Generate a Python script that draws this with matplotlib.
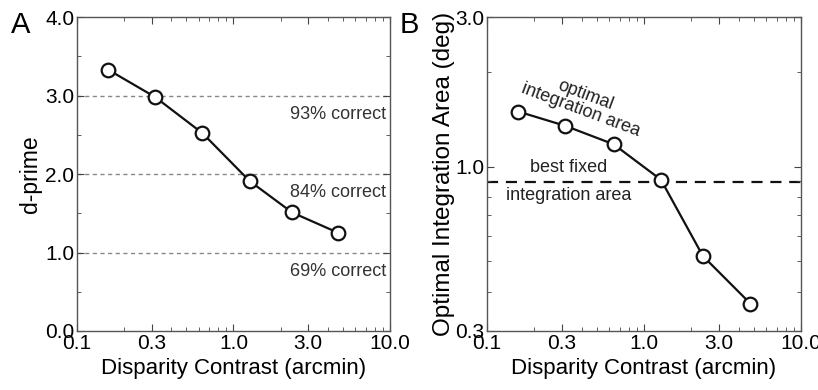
import numpy as np
import matplotlib.pyplot as plt
from matplotlib.ticker import FixedLocator, NullFormatter

plt.rcParams['font.family'] = ['Liberation Sans', 'DejaVu Sans']

# data
contrast = [0.158, 0.316, 0.634, 1.27, 2.37, 4.68]
dprime = [3.33, 2.98, 2.52, 1.91, 1.51, 1.25]
contrast_b = [0.158, 0.316, 0.64, 1.28, 2.37, 4.75]
opt_area = [1.50, 1.35, 1.18, 0.91, 0.52, 0.367]
best_fixed = 0.895
pc_levels = [3.0, 2.0, 1.0]
pc_labels = ['93% correct', '84% correct', '69% correct']

xticks = [0.1, 0.3, 1.0, 3.0, 10.0]
xticklabels = ['0.1', '0.3', '1.0', '3.0', '10.0']

fig = plt.figure(figsize=(8.18, 3.90), dpi=100)
axA = fig.add_axes([0.0941, 0.1513, 0.3826, 0.805])
axB = fig.add_axes([0.5954, 0.1513, 0.3839, 0.805])


def style_x(ax):
    ax.set_xscale('log')
    ax.set_xlim(0.1, 10.0)
    ax.xaxis.set_major_locator(FixedLocator(xticks))
    ax.set_xticklabels(xticklabels)
    minors = [m * d for d in [0.1, 1.0] for m in range(2, 10)]
    minors = [m for m in minors if m not in (0.3, 3.0)]
    ax.xaxis.set_minor_locator(FixedLocator(minors))
    ax.xaxis.set_minor_formatter(NullFormatter())
    ax.set_xlabel('Disparity Contrast (arcmin)', fontsize=16, labelpad=4)
    ax.tick_params(which='both', direction='in', top=True, right=True,
                   labelsize=15, color='#444444', pad=2)
    ax.tick_params(which='major', length=5)
    ax.tick_params(which='minor', length=3)
    for s in ax.spines.values():
        s.set_color('#555555')
        s.set_linewidth(1.0)


# panel A
style_x(axA)
for lev, lab in zip(pc_levels, pc_labels):
    axA.axhline(lev, color='#888888', lw=1.0, ls=(0, (3, 2.5)), zorder=1)
    axA.text(9.45, lev - 0.13, lab, ha='right', va='top', fontsize=13,
             color='#333333')
axA.plot(contrast, dprime, '-o', color='#111111', lw=1.6, ms=9.8,
         mfc='white', mec='#111111', mew=1.6, zorder=3)
axA.set_ylim(0, 4.0)
axA.set_yticks([0, 1, 2, 3, 4])
axA.set_yticklabels(['0.0', '1.0', '2.0', '3.0', '4.0'])
axA.yaxis.set_minor_locator(FixedLocator([0.5, 1.5, 2.5, 3.5]))
axA.set_ylabel('d-prime', fontsize=16.5, labelpad=2)
fig.text(0.013, 0.915, 'A', fontsize=21)

# panel B
style_x(axB)
axB.set_yscale('log')
axB.set_ylim(0.3, 3.0)
axB.yaxis.set_major_locator(FixedLocator([0.3, 1.0, 3.0]))
axB.set_yticklabels(['0.3', '1.0', '3.0'])
axB.yaxis.set_minor_locator(FixedLocator([0.4, 0.5, 0.6, 0.7, 0.8, 0.9, 2.0]))
axB.yaxis.set_minor_formatter(NullFormatter())
axB.axhline(best_fixed, color='#111111', lw=1.6, ls=(0, (5, 3.5)), zorder=1)
axB.plot(contrast_b, opt_area, '-o', color='#111111', lw=1.6, ms=9.8,
         mfc='white', mec='#111111', mew=1.6, zorder=3)
axB.text(0.33, 0.935, 'best fixed', ha='center', va='bottom', fontsize=13,
         color='#222222')
axB.text(0.33, 0.86, 'integration area', ha='center', va='top', fontsize=13,
         color='#222222')
axB.text(0.41, 1.60, 'optimal\nintegration area', ha='center', va='center',
         fontsize=13, rotation=-20.5, rotation_mode='anchor', linespacing=0.85,
         color='#222222')
axB.set_ylabel('Optimal Integration Area (deg)', fontsize=17.5, labelpad=0)
fig.text(0.489, 0.915, 'B', fontsize=21)

fig.savefig('out.png', dpi=100)
